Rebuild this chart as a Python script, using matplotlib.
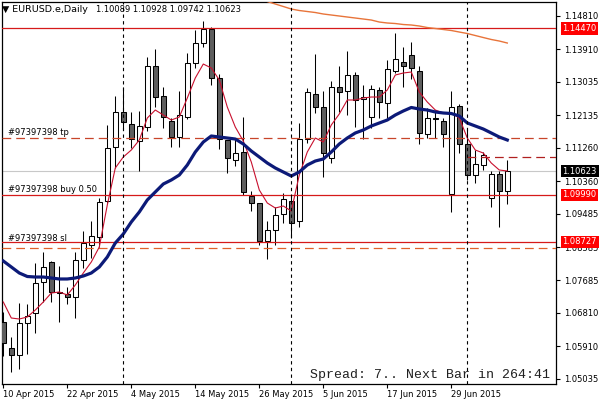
import matplotlib
matplotlib.use('Agg')
import matplotlib.pyplot as plt
import numpy as np

# daily candles, 10 Apr 2015 onwards
opens = [1.06568, 1.05868, 1.05679, 1.06541, 1.06810, 1.07644, 1.08182, 1.07375, 1.07321, 1.07240,
         1.08236, 1.08640, 1.08855, 1.09824, 1.11277, 1.12219, 1.11896, 1.11438, 1.11815, 1.13456,
         1.12649, 1.11976, 1.11546, 1.12084, 1.13537, 1.14075, 1.14452, 1.13134, 1.11465, 1.10927,
         1.11142, 1.09958, 1.09770, 1.08747, 1.09043, 1.09474, 1.09824, 1.09285, 1.11492, 1.12703,
         1.12353, 1.10981, 1.12891, 1.12784, 1.13214, 1.12568, 1.12084, 1.12811, 1.12461, 1.13322,
         1.13564, 1.13752, 1.13322, 1.11627, 1.12057, 1.11976, 1.10012, 1.12380, 1.11358, 1.10523,
         1.10792, 1.09904, 1.10550, 1.10089]
highs = [1.06837, 1.06164, 1.07079, 1.07052, 1.08155, 1.08451, 1.08209, 1.08074, 1.07509, 1.08451,
         1.09016, 1.09285, 1.09904, 1.11869, 1.12649, 1.12891, 1.12219, 1.12246, 1.13699, 1.13914,
         1.12891, 1.12057, 1.12784, 1.13806, 1.14425, 1.14667, 1.14506, 1.13241, 1.11465, 1.11492,
         1.12084, 1.10093, 1.09770, 1.09285, 1.09662, 1.10039, 1.09985, 1.11923, 1.12864, 1.13779,
         1.12784, 1.13053, 1.13456, 1.13860, 1.13295, 1.12945, 1.12945, 1.12891, 1.13618, 1.14345,
         1.13968, 1.14102, 1.13456, 1.12326, 1.12272, 1.12057, 1.12784, 1.12434, 1.11788, 1.11196,
         1.11142, 1.10631, 1.10631, 1.10928]
lows = [1.05653, 1.05222, 1.05303, 1.05706, 1.06272, 1.07106, 1.07106, 1.06568, 1.07052, 1.06675,
        1.08021, 1.08290, 1.08586, 1.09770, 1.10712, 1.11734, 1.11250, 1.10631, 1.11707, 1.12353,
        1.11788, 1.11277, 1.11277, 1.12030, 1.13403, 1.13968, 1.12945, 1.11223, 1.10577, 1.10765,
        1.09985, 1.09554, 1.08640, 1.08263, 1.08640, 1.09232, 1.08828, 1.09124, 1.11384, 1.12192,
        1.10469, 1.10846, 1.12219, 1.12138, 1.11815, 1.11492, 1.11788, 1.12057, 1.12057, 1.13268,
        1.12891, 1.13107, 1.11358, 1.11519, 1.11519, 1.11277, 1.09528, 1.11115, 1.10389, 1.10308,
        1.10658, 1.09662, 1.09124, 1.09742]
closes = [1.06002, 1.05679, 1.06541, 1.06729, 1.07617, 1.08048, 1.07375, 1.07348, 1.07240, 1.08236,
          1.08693, 1.08882, 1.09797, 1.11250, 1.12219, 1.11950, 1.11492, 1.11842, 1.13456, 1.12622,
          1.12084, 1.11546, 1.12138, 1.13537, 1.14075, 1.14452, 1.13134, 1.11492, 1.10981, 1.11115,
          1.10066, 1.09770, 1.08747, 1.09043, 1.09447, 1.09877, 1.09232, 1.11492, 1.12757, 1.12353,
          1.11115, 1.12891, 1.12757, 1.13214, 1.12542, 1.12622, 1.12838, 1.12488, 1.13376, 1.13645,
          1.13456, 1.13403, 1.11654, 1.12057, 1.12030, 1.11627, 1.12353, 1.11358, 1.10523, 1.10819,
          1.11061, 1.10550, 1.10093, 1.10623]

ma_fast = [1.07106, 1.06675, 1.06648, 1.06702, 1.06890, 1.07106, 1.07348, 1.07375, 1.07294, 1.07563,
           1.07886, 1.08182, 1.08586, 1.09716, 1.10712, 1.11008, 1.11196, 1.11465, 1.12057, 1.12272,
           1.12138, 1.12003, 1.12084, 1.12595, 1.13134, 1.13510, 1.13403, 1.13080, 1.12353, 1.11815,
           1.11438, 1.10873, 1.10120, 1.09770, 1.09635, 1.09689, 1.09554, 1.10523, 1.11142, 1.11519,
           1.11411, 1.11869, 1.12165, 1.12542, 1.12542, 1.12595, 1.12622, 1.12622, 1.12811, 1.13214,
           1.13268, 1.13295, 1.12757, 1.12488, 1.12272, 1.12192, 1.12192, 1.12057, 1.11519, 1.11196,
           1.11115, 1.10846, 1.10658, 1.10631]
ma_mid = [1.08209, 1.08048, 1.07886, 1.07792, 1.07778, 1.07778, 1.07752, 1.07725, 1.07725, 1.07752,
          1.07805, 1.07886, 1.08048, 1.08317, 1.08693, 1.08936, 1.09259, 1.09528, 1.09851, 1.10066,
          1.10281, 1.10389, 1.10523, 1.10792, 1.11142, 1.11411, 1.11573, 1.11546, 1.11519, 1.11492,
          1.11358, 1.11169, 1.11008, 1.10846, 1.10712, 1.10604, 1.10496, 1.10604, 1.10792, 1.10900,
          1.10954, 1.11142, 1.11358, 1.11519, 1.11654, 1.11734, 1.11842, 1.11923, 1.12003, 1.12138,
          1.12246, 1.12340, 1.12299, 1.12272, 1.12219, 1.12192, 1.12178, 1.12111, 1.11923, 1.11842,
          1.11761, 1.11654, 1.11546, 1.11465]
# slow average, only the part inside the window (from bar 32)
ma_slow = [1.15313, 1.15192, 1.15125, 1.15058, 1.14990, 1.14950, 1.14923, 1.14896, 1.14856, 1.14829,
           1.14802, 1.14775, 1.14748, 1.14721, 1.14694, 1.14640, 1.14614, 1.14600, 1.14573, 1.14560,
           1.14533, 1.14492, 1.14466, 1.14439, 1.14412, 1.14371, 1.14331, 1.14277, 1.14223, 1.14170,
           1.14129, 1.14075]

tick_pos = [0, 8, 16, 24, 32, 40, 48, 56]
tick_lab = ['10 Apr 2015', '22 Apr 2015', '4 May 2015', '14 May 2015', '26 May 2015',
            '5 Jun 2015', '17 Jun 2015', '29 Jun 2015']
separators = [15, 36, 58]
price_ticks = [1.14810, 1.13910, 1.13035, 1.12135, 1.11260, 1.10360, 1.09485, 1.08585,
               1.07685, 1.06810, 1.05910, 1.05035]

line_top = 1.14470
line_buy = 1.09990
line_sl = 1.08727
line_tp = 1.11527
line_low_dash = 1.08551
line_mid_dash = 1.10999
bid = 1.10623

fig = plt.figure(figsize=(6, 4), dpi=100)
ax = fig.add_axes([2 / 600, 16 / 400, 554 / 600, 382 / 400])

x = np.arange(len(opens))
o = np.array(opens)
c = np.array(closes)
up = c >= o

# bid line
ax.axhline(bid, color='#c8c8c8', lw=0.8, zorder=1)

ax.vlines(x, lows, highs, color='black', lw=0.75, zorder=2)
bottoms = np.minimum(o, c)
heights = np.maximum(np.abs(c - o), 0.00003)
ax.bar(x[up], heights[up], bottom=bottoms[up], width=0.62, color='white',
       edgecolor='black', linewidth=0.75, zorder=3)
ax.bar(x[~up], heights[~up], bottom=bottoms[~up], width=0.62, color='#5e5e5e',
       edgecolor='black', linewidth=0.75, zorder=3)

# order lines
for p in [line_top, line_buy, line_sl]:
    ax.axhline(p, color='#d61a1a', lw=0.9, zorder=4)
ax.axhline(line_tp, color='#c8452a', lw=0.9, dashes=(7, 4), zorder=4)
ax.axhline(line_low_dash, color='#e0602a', lw=0.9, dashes=(7, 4), zorder=4)
ax.hlines(line_mid_dash, 58, 70, color='#b02020', lw=0.9, linestyles=(0, (7, 4)), zorder=4)

ax.plot(x, ma_fast, color='#c8102e', lw=0.8, zorder=5)
ax.plot(x, ma_mid, color='#0c1a78', lw=2.3, zorder=5)
ax.plot(x[32:], ma_slow, color='#e8743a', lw=1.0, zorder=5)

for s in separators:
    ax.axvline(s, color='black', lw=0.8, dashes=(3, 3), zorder=6)

ax.text(0.6, line_tp + 0.0003, '#97397398 tp', fontsize=6, va='bottom', zorder=7)
ax.text(0.6, line_buy + 0.0003, '#97397398 buy 0.50', fontsize=6, va='bottom', zorder=7)
ax.text(0.6, line_sl - 0.0003, '#97397398 sl', fontsize=6, va='bottom', zorder=7)

ax.set_xlim(-0.1625, 69.09)
ax.set_ylim(1.04899, 1.15179)
ax.set_xticks(tick_pos)
ax.set_xticklabels(tick_lab, ha='left')
ax.set_yticks(price_ticks)
ax.set_yticklabels(['%.5f' % v for v in price_ticks])
ax.yaxis.tick_right()
ax.tick_params(axis='x', direction='out', length=3, pad=1, labelsize=6)
ax.tick_params(axis='y', direction='out', length=3, pad=3, labelsize=6)
for sp in ax.spines.values():
    sp.set_linewidth(0.9)
    sp.set_color('black')

# price tags on the right scale
trans = ax.get_yaxis_transform()
tags = [(line_top, '#ff0000'), (bid, 'black'), (line_buy, '#ff0000'), (line_sl, '#ff0000')]
for p, col in tags:
    ax.text(1.0118, p, '%.5f' % p, transform=trans, fontsize=6, color='white',
            va='center', ha='left', clip_on=False, zorder=10,
            bbox=dict(boxstyle='square,pad=0.2', facecolor=col, edgecolor='none'))

fig.text(2 / 600, 1 - 10 / 400, '\u25bc EURUSD.e,Daily', fontsize=6.8, va='center')
fig.text(96.5 / 600, 1 - 10 / 400, '1.10089 1.10928 1.09742 1.10623', fontsize=6, va='center')
fig.text(309.5 / 600, 1 - 375 / 400, 'Spread: 7.. Next Bar in 264:41', fontsize=9.5,
         family='Liberation Mono', color='#202020', va='center')

fig.savefig('out.png', dpi=100)
